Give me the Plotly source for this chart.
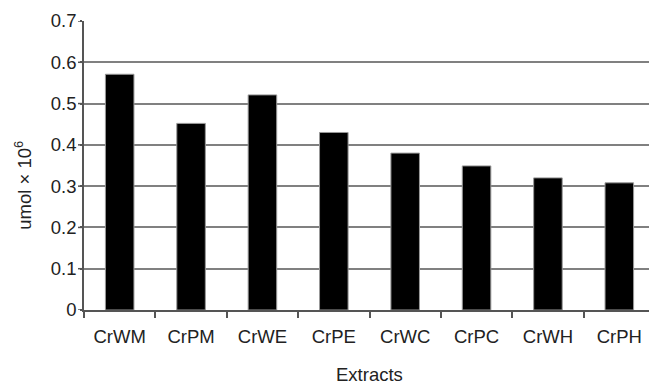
import plotly.graph_objects as go

categories = ["CrWM", "CrPM", "CrWE", "CrPE", "CrWC", "CrPC", "CrWH", "CrPH"]
values = [0.571, 0.452, 0.521, 0.430, 0.380, 0.349, 0.320, 0.308]
y_ticks = [0, 0.1, 0.2, 0.3, 0.4, 0.5, 0.6, 0.7]
y_ticktext = ["0", "0.1", "0.2", "0.3", "0.4", "0.5", "0.6", "0.7"]
x_title = "Extracts"
y_title = "umol × 10<sup>6</sup>"

font = "Liberation Sans, Arial, sans-serif"
FS = 18.5
AX = "#555555"

# the page body has an 8px default margin, so the figure is shrunk/offset by 8px
fig = go.Figure(go.Bar(
    x=categories, y=values,
    marker=dict(color="black", line=dict(color="#999999", width=1)),
    width=0.4,
))

fig.update_layout(
    width=649, height=377,
    margin=dict(l=76, r=2, t=13, b=75),
    paper_bgcolor="white", plot_bgcolor="white",
    font=dict(family=font, size=FS, color="#222222"),
    showlegend=False,
)
fig.update_xaxes(
    showgrid=False, showline=True, linecolor=AX, linewidth=1.5,
    ticks="outside", tickson="boundaries", ticklen=6, tickcolor=AX, tickwidth=1.5,
    tickfont=dict(size=FS), automargin=False, ticklabelstandoff=9,
)
fig.update_yaxes(
    range=[0, 0.7], tickvals=y_ticks, ticktext=y_ticktext,
    showgrid=True, gridcolor="#808080", gridwidth=1.5,
    showline=True, linecolor=AX, linewidth=1.5,
    ticks="outside", ticklen=2, tickcolor=AX, tickwidth=1.5,
    tickfont=dict(size=FS), zeroline=False, automargin=False,
)
# full-length y tick marks (6px) drawn as pixel-sized shapes
for v in y_ticks:
    fig.add_shape(
        type="line", xref="paper", yref="y", xsizemode="pixel", xanchor=0,
        x0=-6, x1=0, y0=v, y1=v, line=dict(color=AX, width=1.5), layer="above",
    )
fig.add_annotation(
    text=x_title, xref="paper", yref="paper", x=0.5, y=-0.2215,
    xanchor="center", yanchor="middle", showarrow=False, font=dict(size=FS),
)
fig.add_annotation(
    text=y_title, xref="paper", yref="paper", x=-0.1068, y=0.43,
    xanchor="center", yanchor="middle", showarrow=False, textangle=-90,
    font=dict(size=FS),
)

fig.write_html("out.html")
